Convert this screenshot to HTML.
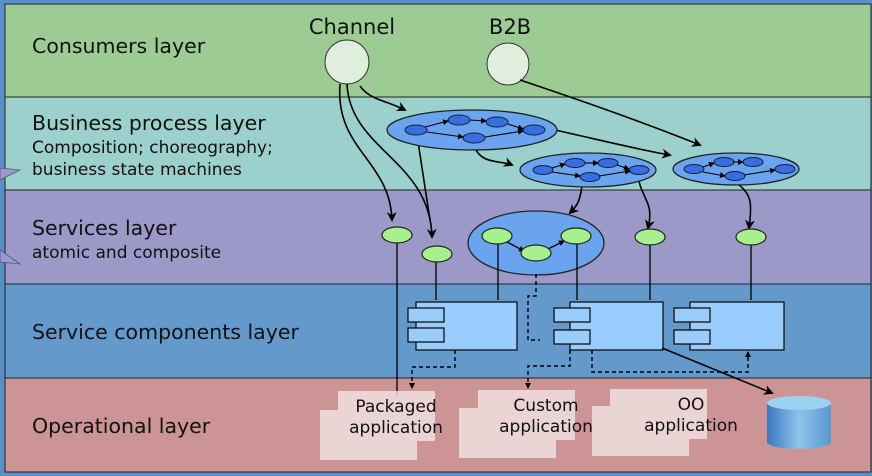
<!DOCTYPE html>
<html><head><style>
html,body{margin:0;padding:0;background:#5b8fc8;}
svg{display:block}
text{font-family:"DejaVu Sans",sans-serif;fill:#111}
</style></head><body>
<svg width="872" height="476" viewBox="0 0 872 476">
<defs>
<marker id="a" markerWidth="10" markerHeight="10" refX="8" refY="5" orient="auto" markerUnits="userSpaceOnUse"><path d="M0,0 L10,5 L0,10 L3,5 z" fill="#000"/></marker>
<marker id="s" markerWidth="6" markerHeight="6" refX="5" refY="3" orient="auto" markerUnits="userSpaceOnUse"><path d="M0,0 L6,3 L0,6 z" fill="#000"/></marker>
<linearGradient id="cyl" x1="0" x2="1"><stop offset="0" stop-color="#3a78c0"/><stop offset="0.5" stop-color="#8cc4ec"/><stop offset="1" stop-color="#5a98d0"/></linearGradient>
</defs>
<rect x="0" y="0" width="872" height="476" fill="#5b8fc8"/>
<rect x="5" y="4" width="866" height="93" fill="#9ccc94" stroke="#222" stroke-width="1"/>
<rect x="5" y="97" width="866" height="93" fill="#9cd0cc" stroke="#222"/>
<rect x="5" y="190" width="866" height="94" fill="#9c98c8" stroke="#222"/>
<rect x="5" y="284" width="866" height="94" fill="#6499cc" stroke="#222"/>
<rect x="5" y="378" width="866" height="94" fill="#cc9494" stroke="#222"/>
<path d="M0,168 L20,170 L0,180 z" fill="#9c98c8" stroke="#557" stroke-width="0.8"/>
<path d="M0,250 L20,264 L0,262 z" fill="#9c98c8" stroke="#557" stroke-width="0.8"/>

<text x="32" y="53" font-size="20.5">Consumers layer</text>
<text x="32" y="130" font-size="20.5">Business process layer</text>
<text x="32" y="153" font-size="17">Composition; choreography;</text>
<text x="32" y="175" font-size="17">business state machines</text>
<text x="32" y="235" font-size="20.5">Services layer</text>
<text x="32" y="258" font-size="17">atomic and composite</text>
<text x="32" y="339" font-size="20.5">Service components layer</text>
<text x="32" y="433" font-size="20.5">Operational layer</text>

<text x="352" y="34" font-size="21" text-anchor="middle">Channel</text>
<text x="510" y="34" font-size="21" text-anchor="middle">B2B</text>
<circle cx="347" cy="62" r="22" fill="#dfeedd" stroke="#333"/>
<circle cx="508" cy="64" r="21" fill="#dfeedd" stroke="#333"/>

<g fill="none" stroke="#000" stroke-width="1.6">
<path d="M360,86 C370,100 385,100 405,110" marker-end="url(#a)"/>
<path d="M520,80 C580,100 650,125 700,145" marker-end="url(#a)"/>
<path d="M555,130 C600,140 640,150 670,155" marker-end="url(#a)"/>
<path d="M340,84 C335,150 390,160 392,220" marker-end="url(#a)"/>
<path d="M347,84 C350,150 430,160 432,237" marker-end="url(#a)"/>
<path d="M417,135 L430,220"/>
<path d="M474,145 C480,165 500,160 512,165" marker-end="url(#a)"/>
<path d="M582,186 C580,200 578,205 570,213" marker-end="url(#a)"/>
<path d="M637,170 C640,200 655,200 648,228" marker-end="url(#a)"/>
<path d="M739,185 C752,195 752,205 749,228" marker-end="url(#a)"/>
</g>

<g stroke="#222" stroke-width="1.3">
<ellipse cx="472" cy="130" rx="85" ry="20" fill="#6aa4ee"/>
<ellipse cx="588" cy="170" rx="68" ry="17" fill="#6aa4ee"/>
<ellipse cx="736" cy="169" rx="63" ry="16" fill="#6aa4ee"/>
</g>
<g fill="#3a6ee0" stroke="#123" stroke-width="1">
<ellipse cx="416" cy="130" rx="11" ry="5"/><ellipse cx="459" cy="120" rx="11" ry="5"/><ellipse cx="497" cy="122" rx="11" ry="5"/><ellipse cx="534" cy="130" rx="11" ry="5"/><ellipse cx="474" cy="138" rx="11" ry="5"/>
<ellipse cx="543" cy="170" rx="10" ry="4.5"/><ellipse cx="575" cy="163" rx="10" ry="4.5"/><ellipse cx="608" cy="163" rx="10" ry="4.5"/><ellipse cx="639" cy="170" rx="10" ry="4.5"/><ellipse cx="590" cy="177" rx="10" ry="4.5"/>
<ellipse cx="694" cy="169" rx="10" ry="4.5"/><ellipse cx="724" cy="162" rx="10" ry="4.5"/><ellipse cx="753" cy="162" rx="10" ry="4.5"/><ellipse cx="735" cy="176" rx="10" ry="4.5"/><ellipse cx="785" cy="169" rx="10" ry="4.5"/>
</g>
<g fill="none" stroke="#000" stroke-width="1.1">
<path d="M425,127 L448,121" marker-end="url(#s)"/><path d="M470,120 L486,121" marker-end="url(#s)"/><path d="M508,124 L523,129" marker-end="url(#s)"/><path d="M427,132 L463,137" marker-end="url(#s)"/><path d="M485,137 L523,131" marker-end="url(#s)"/>
<path d="M552,168 L565,164" marker-end="url(#s)"/><path d="M585,163 L598,163" marker-end="url(#s)"/><path d="M617,165 L629,169" marker-end="url(#s)"/><path d="M552,172 L580,176" marker-end="url(#s)"/><path d="M599,176 L630,171" marker-end="url(#s)"/>
<path d="M703,167 L714,163" marker-end="url(#s)"/><path d="M733,162 L743,162" marker-end="url(#s)"/><path d="M703,172 L725,176" marker-end="url(#s)"/><path d="M744,175 L775,170" marker-end="url(#s)"/>
</g>

<ellipse cx="536" cy="243" rx="68" ry="32" fill="#6aa4ee" stroke="#222" stroke-width="1.3"/>
<g stroke="#000" stroke-width="1.3" fill="none">
<line x1="397" y1="235" x2="397" y2="396"/>
<line x1="436" y1="255" x2="436" y2="300"/>
<line x1="498" y1="240" x2="498" y2="300"/>
<line x1="577" y1="240" x2="577" y2="300"/>
<line x1="650" y1="240" x2="650" y2="300"/>
<line x1="751" y1="240" x2="751" y2="300"/>
<path d="M507,242 L524,251" marker-end="url(#s)"/><path d="M546,250 L564,241" marker-end="url(#s)"/>
</g>
<g fill="#a6f08e" stroke="#222" stroke-width="1.2">
<ellipse cx="397" cy="235" rx="15" ry="8"/><ellipse cx="437" cy="254" rx="15" ry="8"/><ellipse cx="497" cy="236" rx="15" ry="8"/><ellipse cx="576" cy="236" rx="15" ry="8"/><ellipse cx="536" cy="253" rx="15" ry="8"/><ellipse cx="650" cy="237" rx="15" ry="8"/><ellipse cx="751" cy="237" rx="15" ry="8"/>
</g>

<g fill="#99ccff" stroke="#111" stroke-width="1.3">
<rect x="416" y="302" width="101" height="48"/><rect x="408" y="308" width="36" height="14"/><rect x="408" y="328" width="36" height="14"/>
<rect x="570" y="302" width="93" height="48"/><rect x="554" y="308" width="36" height="14"/><rect x="554" y="330" width="36" height="14"/>
<rect x="690" y="302" width="94" height="48"/><rect x="674" y="308" width="36" height="14"/><rect x="674" y="330" width="36" height="14"/>
</g>
<g fill="none" stroke="#000" stroke-width="1.4" stroke-dasharray="4,3">
<path d="M536,274 L536,296 L528,296 L528,340 L540,340"/>
<path d="M455,350 L455,367 L412,367 L412,388" marker-end="url(#s)"/>
<path d="M570,350 L570,366 L528,366 L528,388" marker-end="url(#s)"/>
<path d="M592,350 L592,372 L748,372 L748,352" marker-end="url(#s)"/>
</g>
<path d="M662,348 L772,393" stroke="#000" stroke-width="1.6" fill="none" marker-end="url(#a)"/>

<g fill="#f2e4e4" opacity="0.8">
<rect x="320" y="410" width="97" height="50"/><rect x="338" y="391" width="97" height="50"/>
<rect x="459" y="408" width="97" height="50"/><rect x="478" y="390" width="97" height="50"/>
<rect x="592" y="406" width="97" height="50"/><rect x="610" y="389" width="97" height="50"/>
</g>
<text x="396" y="412" font-size="17" text-anchor="middle">Packaged</text>
<text x="396" y="433" font-size="17" text-anchor="middle">application</text>
<text x="546" y="411" font-size="17" text-anchor="middle">Custom</text>
<text x="546" y="432" font-size="17" text-anchor="middle">application</text>
<text x="691" y="410" font-size="17" text-anchor="middle">OO</text>
<text x="691" y="431" font-size="17" text-anchor="middle">application</text>
<path d="M767,403 L767,442 A32,7 0 0 0 831,442 L831,403 z" fill="url(#cyl)"/>
<ellipse cx="799" cy="403" rx="32" ry="7" fill="#9cd2f0"/>
</svg>
</body></html>
